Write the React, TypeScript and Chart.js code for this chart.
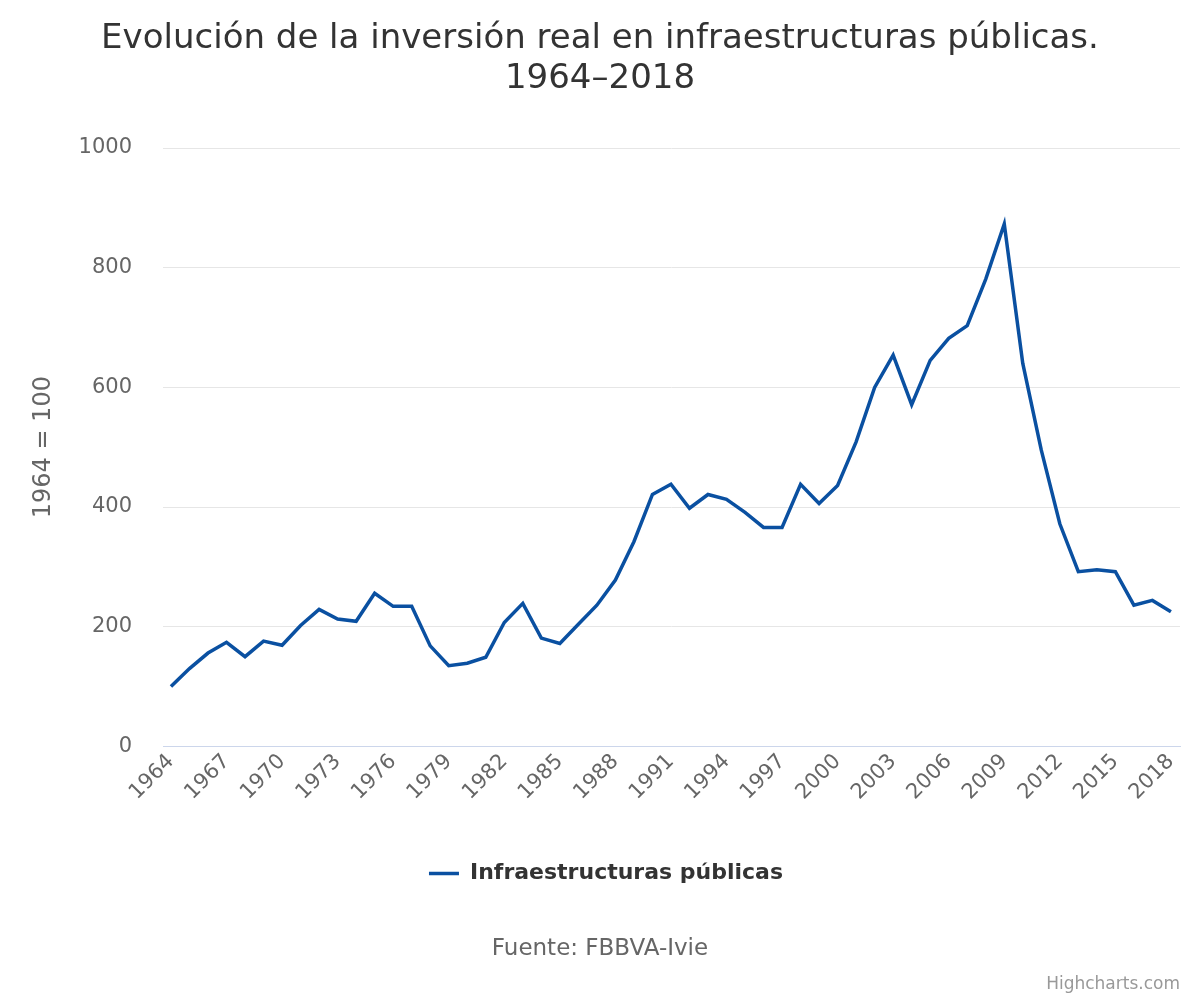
import React, { useEffect, useRef } from 'react';
import { Chart, registerables } from 'chart.js';

Chart.register(...registerables);

const titleLines = ['Evolución de la inversión real en infraestructuras públicas.', '1964–2018'];
const seriesName = 'Infraestructuras públicas';
const yAxisTitle = '1964 = 100';
const sourceText = 'Fuente: FBBVA-Ivie';
const creditText = 'Highcharts.com';

const years = [
  1964, 1965, 1966, 1967, 1968, 1969, 1970, 1971, 1972, 1973,
  1974, 1975, 1976, 1977, 1978, 1979, 1980, 1981, 1982, 1983,
  1984, 1985, 1986, 1987, 1988, 1989, 1990, 1991, 1992, 1993,
  1994, 1995, 1996, 1997, 1998, 1999, 2000, 2001, 2002, 2003,
  2004, 2005, 2006, 2007, 2008, 2009, 2010, 2011, 2012, 2013,
  2014, 2015, 2016, 2017, 2018,
];

const values = [
  100, 130, 156, 174, 150, 176, 169, 202, 229, 213,
  209, 256, 234, 234, 168, 135, 139, 149, 207, 239,
  181, 172, 204, 236, 278, 342, 421, 438, 398, 421,
  413, 391, 366, 366, 438, 406, 436, 509, 600, 654,
  571, 645, 682, 703, 781, 873, 640, 495, 372, 292,
  295, 292, 236, 244, 225,
];

const xTickYears = [
  1964, 1967, 1970, 1973, 1976, 1979, 1982, 1985, 1988, 1991,
  1994, 1997, 2000, 2003, 2006, 2009, 2012, 2015, 2018,
];

const yMin = 0;
const yMax = 1000;
const yStep = 200;

const FONT = '"DejaVu Sans", Verdana, sans-serif';
const LINE_COLOR = '#0a50a1';

const creditsPlugin = {
  id: 'credits',
  afterLayout(chart: any) {
    const lg = chart.legend;
    if (lg) {
      lg.left += 6;
      lg.right += 6;
    }
  },
  afterDraw(chart: any) {
    const ctx = chart.ctx;
    ctx.save();
    ctx.font = `17px ${FONT}`;
    ctx.fillStyle = '#999999';
    ctx.textAlign = 'right';
    ctx.textBaseline = 'middle';
    ctx.fillText(creditText, 1180, 985);
    ctx.restore();
  },
};

export default function App() {
  const canvasRef = useRef<HTMLCanvasElement | null>(null);

  useEffect(() => {
    if (!canvasRef.current) return;
    const data = years.map((y, i) => ({ x: y, y: values[i] }));
    const chart = new Chart(canvasRef.current, {
      type: 'line',
      data: {
        datasets: [
          {
            label: seriesName,
            data,
            borderColor: LINE_COLOR,
            backgroundColor: LINE_COLOR,
            borderWidth: 3.5,
            pointRadius: 0,
            pointHoverRadius: 0,
            tension: 0,
            fill: false,
            pointStyle: 'line',
          },
        ],
      },
      plugins: [creditsPlugin],
      options: {
        responsive: false,
        animation: false,
        events: [],
        layout: { padding: { left: 0, right: 0, top: 0, bottom: 0 } },
        scales: {
          x: {
            type: 'linear',
            position: 'bottom',
            min: 1963.57,
            max: 2018.49,
            afterBuildTicks: (scale: any) => {
              scale.ticks = xTickYears.map((v) => ({ value: v }));
            },
            afterFit: (scale: any) => {
              scale.height = 116;
            },
            grid: { display: false, drawTicks: false },
            border: { display: true, color: '#ccd6eb', width: 1 },
            ticks: {
              autoSkip: false,
              minRotation: 45,
              maxRotation: 45,
              padding: 3,
              color: '#666666',
              font: { family: FONT, size: 21 },
              callback: (v: any) => String(v),
            },
          },
          y: {
            type: 'linear',
            position: 'left',
            min: yMin,
            max: yMax,
            afterFit: (scale: any) => {
              scale.width = 163;
            },
            grid: { color: '#e6e6e6', lineWidth: 1, drawTicks: false },
            border: { display: false },
            ticks: {
              stepSize: yStep,
              padding: 31,
              color: '#666666',
              font: { family: FONT, size: 21 },
              callback: (v: any) => String(v),
            },
            title: {
              display: true,
              text: yAxisTitle,
              color: '#666666',
              font: { family: FONT, size: 24 },
              padding: { top: 29, bottom: 0 },
            },
          },
          yR: {
            type: 'linear',
            position: 'right',
            display: true,
            afterFit: (scale: any) => {
              scale.width = 20;
            },
            grid: { display: false, drawTicks: false },
            border: { display: false },
            ticks: { display: false },
          },
        },
        plugins: {
          title: {
            display: true,
            text: titleLines,
            color: '#333333',
            font: { family: FONT, size: 34, weight: 'normal', lineHeight: '40px' },
            padding: { top: 19, bottom: 49 },
          },
          subtitle: {
            display: true,
            position: 'bottom',
            text: sourceText,
            color: '#666666',
            font: { family: FONT, size: 23, weight: 'normal', lineHeight: 1.2 },
            padding: { top: 41, bottom: 37 },
          },
          legend: {
            display: true,
            position: 'bottom',
            labels: {
              usePointStyle: true,
              pointStyleWidth: 30,
              padding: 0,
              color: '#333333',
              font: { family: FONT, size: 22, weight: 'bold' },
            },
          },
          tooltip: { enabled: false },
        },
      },
    });
    return () => chart.destroy();
  }, []);

  return (
    <div style={{ position: 'absolute', left: 0, top: 0, width: 1200, height: 1000, background: '#ffffff' }}>
      <canvas ref={canvasRef} width={1200} height={1000} style={{ display: 'block' }} />
    </div>
  );
}
